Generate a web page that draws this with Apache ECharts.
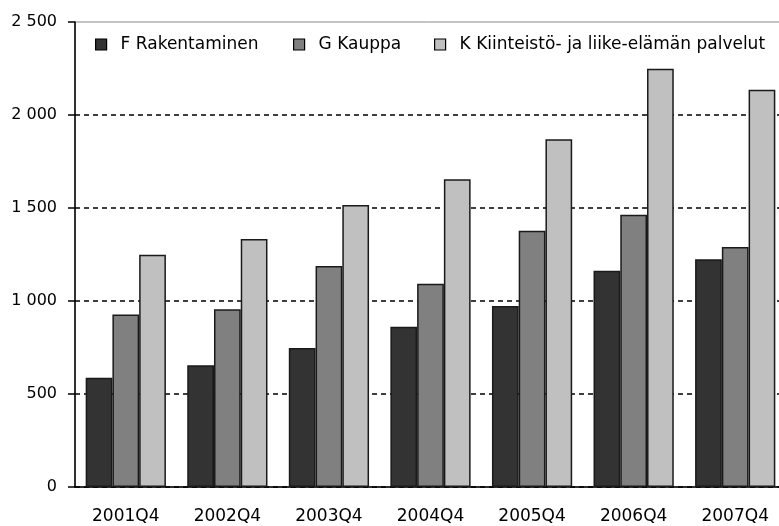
<!DOCTYPE html>
<html>
<head>
<meta charset="utf-8">
<script src="https://cdn.jsdelivr.net/npm/echarts@6/dist/echarts.min.js"></script>
<style>
  html, body { margin: 0; padding: 0; background: #ffffff; }
  #chart { width: 779px; height: 526px; }
</style>
</head>
<body>
<div id="chart"></div>
<script>
  // quarters on the x axis
  var categories = ['2001Q4', '2002Q4', '2003Q4', '2004Q4', '2005Q4', '2006Q4', '2007Q4']
  var seriesNames = ['F Rakentaminen', 'G Kauppa', 'K Kiinteistö- ja liike-elämän palvelut']
  // values
  var rakentaminen = [588, 654, 747, 862, 973, 1163, 1224]
  var kauppa = [928, 955, 1188, 1093, 1378, 1464, 1290]
  var palvelut = [1249, 1333, 1516, 1654, 1869, 2249, 2136]
  var yTicks = [0, 500, 1000, 1500, 2000, 2500]

  var colors = ['#333333', '#808080', '#c0c0c0']
  var font = 'DejaVu Sans'

  var chart = echarts.init(document.getElementById('chart'))

  function legendAt(name, left) {
    return {
      data: [name],
      left: left,
      top: 36,
      icon: 'rect',
      itemWidth: 11,
      itemHeight: 11,
      padding: 0,
      itemStyle: { borderColor: '#000', borderWidth: 1.2 },
      textStyle: { fontFamily: font, fontSize: 17, color: '#000', padding: [0, 0, 0, 9] }
    }
  }

  var option = {
    animation: false,
    color: colors,
    legend: [
      legendAt(seriesNames[0], 95),
      legendAt(seriesNames[1], 293),
      legendAt(seriesNames[2], 434)
    ],
    grid: {
      left: 75,
      top: 22,
      bottom: 39,
      right: -7,
      outerBoundsMode: 'none',
      containLabel: false,
      show: true,
      borderColor: '#888',
      borderWidth: 1
    },
    xAxis: {
      type: 'category',
      data: categories,
      axisLine: { lineStyle: { color: '#000', width: 1.5 } },
      axisTick: { length: 7, lineStyle: { color: '#000', width: 1.5 } },
      axisLabel: { color: '#000', fontFamily: font, fontSize: 17, margin: 21 }
    },
    yAxis: {
      type: 'value',
      min: yTicks[0],
      max: yTicks[yTicks.length - 1],
      interval: 500,
      axisLine: { show: true, lineStyle: { color: '#000', width: 1.5 } },
      axisTick: { show: true, length: 7, lineStyle: { color: '#000', width: 1.5 } },
      axisLabel: {
        color: '#000', fontFamily: font, fontSize: 16, margin: 18,
        formatter: function (v) {
          return String(v).replace(/\B(?=(\d{3})+(?!\d))/g, ' ')
        }
      },
      splitLine: {
        show: true,
        lineStyle: {
          color: ['#000', '#000', '#000', '#000', '#000', 'rgba(0,0,0,0)'],
          width: 1.5,
          type: [5, 4]
        }
      }
    },
    series: [
      { name: seriesNames[0], data: rakentaminen },
      { name: seriesNames[1], data: kauppa },
      { name: seriesNames[2], data: palvelut }
    ].map(function (s) {
      return {
        name: s.name,
        type: 'bar',
        data: s.data,
        barGap: 0,
        barCategoryGap: '21%',
        itemStyle: { borderColor: '#1a1a1a', borderWidth: 1.5 }
      }
    })
  }

  chart.setOption(option)
</script>
</body>
</html>
